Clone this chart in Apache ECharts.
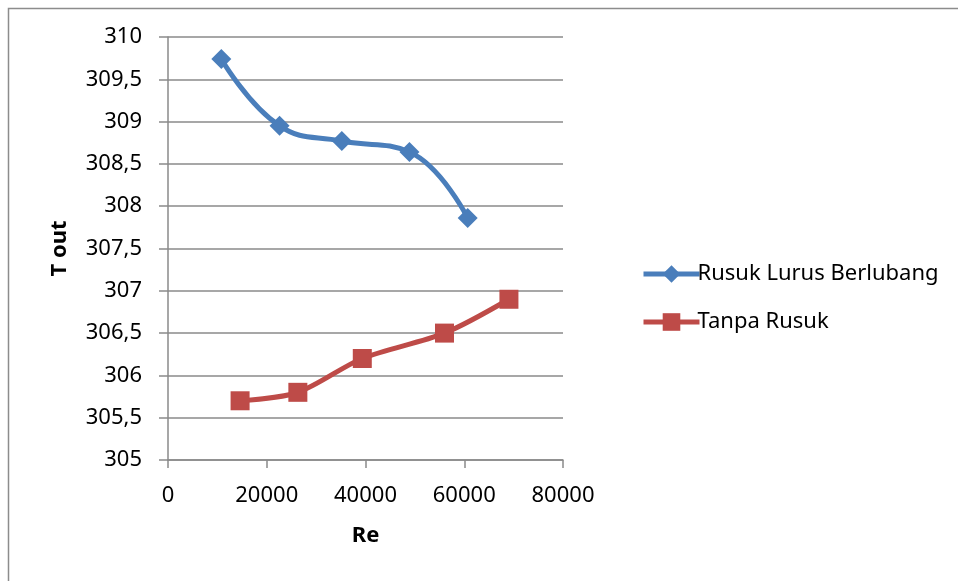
<!DOCTYPE html>
<html>
<head>
<meta charset="utf-8">
<title>T out vs Re</title>
<script src="https://cdn.jsdelivr.net/npm/echarts@6/dist/echarts.min.js"></script>
<style>
  html, body { margin: 0; padding: 0; background: #ffffff; }
  #chart { width: 958px; height: 581px; }
</style>
</head>
<body>
<div id="chart"></div>
<script>
// Outlet temperature against Reynolds number, two fin configurations
const seriesNames = ['Rusuk Lurus Berlubang', 'Tanpa Rusuk'];
const reBerlubang = [10800, 22600, 35200, 48900, 60700];
const toutBerlubang = [309.74, 308.95, 308.77, 308.64, 307.86];
const reTanpa = [14600, 26300, 39350, 56000, 69050];
const toutTanpa = [305.70, 305.80, 306.20, 306.50, 306.90];
const xTicks = [0, 20000, 40000, 60000, 80000];
const yTicks = [305, 305.5, 306, 306.5, 307, 307.5, 308, 308.5, 309, 309.5, 310];

const FONT = '"Noto Sans", "Open Sans", sans-serif';
const GRAY = '#8a8a8a';
const BLUE = '#4a7ebb';
const RED = '#be4b48';

const pairs = (xs, ys) => xs.map((x, i) => [x, ys[i]]);

const chart = echarts.init(document.getElementById('chart'), null, { renderer: 'canvas' });
chart.setOption({
  backgroundColor: '#ffffff',
  animation: false,
  graphic: [{
    type: 'rect',
    shape: { x: 8.5, y: 8.5, width: 2000, height: 2000 },
    style: { fill: 'none', stroke: '#8c8c8c', lineWidth: 1.5 },
    silent: true
  }],
  grid: { left: 168, right: 395, top: 37, bottom: 121, containLabel: false },
  legend: {
    orient: 'vertical',
    left: 636,
    top: 258,
    itemWidth: 56,
    itemHeight: 22,
    itemGap: 26,
    lineStyle: { width: 5 },
    textStyle: { fontFamily: FONT, fontSize: 22, color: '#000000', padding: [0, 0, 0, -7] },
    data: seriesNames
  },
  xAxis: {
    type: 'value',
    min: xTicks[0],
    max: xTicks[xTicks.length - 1],
    interval: xTicks[1] - xTicks[0],
    name: 'Re',
    nameLocation: 'middle',
    nameGap: 65,
    nameTextStyle: { fontFamily: FONT, fontSize: 22, fontWeight: 'bold', color: '#000000' },
    axisLine: { show: true, onZero: false, lineStyle: { color: GRAY, width: 1.5 } },
    axisTick: { show: true, inside: false, length: 8, lineStyle: { color: GRAY, width: 1.5 } },
    axisLabel: { fontFamily: FONT, fontSize: 22, color: '#000000', margin: 25, formatter: v => String(v) },
    splitLine: { show: false }
  },
  yAxis: {
    type: 'value',
    min: yTicks[0],
    max: yTicks[yTicks.length - 1],
    interval: yTicks[1] - yTicks[0],
    name: 'T out',
    nameLocation: 'middle',
    nameRotate: 90,
    nameGap: 97,
    nameTextStyle: { fontFamily: FONT, fontSize: 22, fontWeight: 'bold', color: '#000000' },
    axisLine: { show: true, onZero: false, lineStyle: { color: GRAY, width: 1.5 } },
    axisTick: { show: true, inside: false, length: 9, lineStyle: { color: GRAY, width: 1.5 } },
    axisLabel: {
      fontFamily: FONT, fontSize: 22, color: '#000000', margin: 26,
      formatter: v => String(Math.round(v * 10) / 10).replace('.', ',')
    },
    splitLine: { show: true, lineStyle: { color: GRAY, width: 1.5 } }
  },
  series: [
    {
      name: seriesNames[0],
      type: 'line',
      data: pairs(reBerlubang, toutBerlubang),
      smooth: 0.45,
      symbol: 'diamond',
      symbolSize: 20,
      lineStyle: { color: BLUE, width: 5 },
      itemStyle: { color: BLUE }
    },
    {
      name: seriesNames[1],
      type: 'line',
      data: pairs(reTanpa, toutTanpa),
      smooth: 0.3,
      symbol: 'rect',
      symbolSize: 19,
      lineStyle: { color: RED, width: 5 },
      itemStyle: { color: RED }
    }
  ]
});
</script>
</body>
</html>
